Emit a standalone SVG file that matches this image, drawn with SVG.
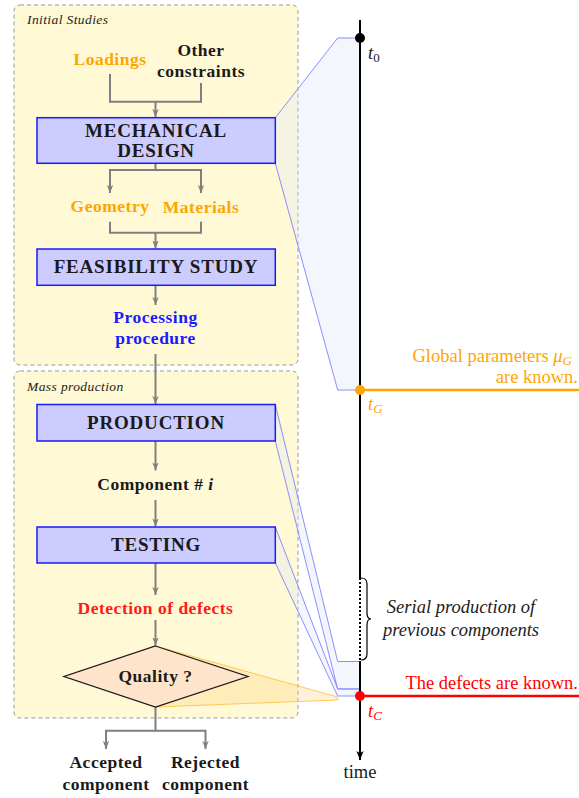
<svg xmlns="http://www.w3.org/2000/svg" width="579" height="798" viewBox="0 0 579 798">
<defs>
<marker id="ag" viewBox="0 0 10 10" refX="10" refY="5" markerWidth="8" markerHeight="8" markerUnits="userSpaceOnUse" orient="auto"><path d="M0,1 L10,5 L0,9 L2.5,5 z" fill="#808080"/></marker>
<marker id="ak" viewBox="0 0 10 10" refX="10" refY="5" markerWidth="9" markerHeight="9" markerUnits="userSpaceOnUse" orient="auto"><path d="M0,1 L10,5 L0,9 L2.5,5 z" fill="#000"/></marker>
</defs>
<style>
text{font-family:"Liberation Serif","DejaVu Serif","Times New Roman",serif}
.frame{fill:#fff9d5;stroke:#9a9a9a;stroke-width:1;stroke-dasharray:4 3}
.ftitle{font-style:italic;font-size:13.5px;letter-spacing:0.4px;fill:#222}
.box{fill:#ccccff;stroke:#1a1aff;stroke-width:1.5}
.bt{font-weight:bold;font-size:19px;letter-spacing:0.8px;fill:#1a1a1a;text-anchor:middle}
.lb{font-weight:bold;font-size:17.5px;letter-spacing:0.5px;text-anchor:middle}
.con{fill:none;stroke:#808080;stroke-width:2}
.proj{fill:#e0e4fa;fill-opacity:0.35;stroke:#8080ff;stroke-width:0.9}
.tt{font-size:18.5px}
</style>
<rect class="frame" x="14" y="5" width="284" height="360" rx="6"/>
<rect class="frame" x="14" y="371" width="284" height="347" rx="6"/>
<text class="ftitle" x="27" y="24">Initial Studies</text>
<text class="ftitle" x="27" y="391">Mass production</text>
<g id="projections">
<polygon class="proj" points="275.3,117.7 337.7,38 360,38 360,390 337.7,390 275.3,163.3"/>
<polygon class="proj" points="275.3,404.5 337.7,661.5 360,661.5 360,689 337.7,689 275.3,441"/>
<polygon class="proj" points="275.3,527 337.7,689 360,689 360,696 337.7,696 275.3,563"/>
<polygon points="155.5,646 337.7,697 337.7,700 155.5,707" fill="#ffd27a" fill-opacity="0.3" stroke="#ffc34d" stroke-width="0.9"/>
</g>
<g id="connectors">
<path class="con" d="M110,74 V101.7 H201 V83"/>
<path class="con" d="M155.5,101.7 V117" marker-end="url(#ag)"/>
<path class="con" d="M155.5,163.3 V170 H110 V193" marker-end="url(#ag)"/>
<path class="con" d="M155.5,170 H201 V193" marker-end="url(#ag)"/>
<path class="con" d="M110,221.7 V232.7 H201 V221.7"/>
<path class="con" d="M155.5,232.7 V248.5" marker-end="url(#ag)"/>
<path class="con" d="M155.5,285.3 V305" marker-end="url(#ag)"/>
<path class="con" d="M155.5,354 V404" marker-end="url(#ag)"/>
<path class="con" d="M155.5,441 V470.5" marker-end="url(#ag)"/>
<path class="con" d="M155.5,500 V526.5" marker-end="url(#ag)"/>
<path class="con" d="M155.5,563 V595" marker-end="url(#ag)"/>
<path class="con" d="M155.5,620 V645.5" marker-end="url(#ag)"/>
<path class="con" d="M155.5,707 V730.7 H106 V749" marker-end="url(#ag)"/>
<path class="con" d="M155.5,730.7 H205.5 V749" marker-end="url(#ag)"/>
</g>
<g id="loadings"><text class="lb" x="110" y="65" fill="#ffa500">Loadings</text></g>
<g id="other"><text class="lb" x="201" y="56" fill="#1a1a1a">Other</text><text class="lb" x="201" y="77.3" fill="#1a1a1a">constraints</text></g>
<g id="mech"><rect class="box" x="37" y="117.7" width="238.3" height="45.6"/><text class="bt" x="156" y="136.7">MECHANICAL</text><text class="bt" x="156" y="157">DESIGN</text></g>
<g id="geometry"><text class="lb" x="110" y="211.7" fill="#ffa500">Geometry</text></g>
<g id="materials"><text class="lb" x="201" y="213.3" fill="#ffa500">Materials</text></g>
<g id="feas"><rect class="box" x="37" y="249" width="238.3" height="36.3"/><text class="bt" x="156" y="273.3">FEASIBILITY STUDY</text></g>
<g id="proc"><text class="lb" x="155.5" y="323.3" fill="#1a1aff">Processing</text><text class="lb" x="155.5" y="344" fill="#1a1aff">procedure</text></g>
<g id="production"><rect class="box" x="37" y="404.5" width="238.3" height="36.5"/><text class="bt" x="156" y="429.3">PRODUCTION</text></g>
<g id="component"><text class="lb" x="155.5" y="490" fill="#1a1a1a">Component # <tspan font-style="italic">i</tspan></text></g>
<g id="testing"><rect class="box" x="37" y="527" width="238.3" height="36"/><text class="bt" x="156" y="551">TESTING</text></g>
<g id="detection"><text class="lb" x="155.5" y="614" fill="#ff1a1a">Detection of defects</text></g>
<g id="quality"><polygon points="155.5,646 248,676.5 155.5,707 64,676.5" fill="#ffe4cc" stroke="#1a1a1a" stroke-width="1.3"/><text class="lb" x="155.5" y="681.5" fill="#1a1a1a">Quality ?</text></g>
<g id="accepted"><text class="lb" x="106" y="768.3" fill="#1a1a1a">Accepted</text><text class="lb" x="106" y="790" fill="#1a1a1a">component</text></g>
<g id="rejected"><text class="lb" x="205.5" y="768.3" fill="#1a1a1a">Rejected</text><text class="lb" x="205.5" y="790" fill="#1a1a1a">component</text></g>
<g id="timeline">
<line x1="360" y1="20" x2="360" y2="578" stroke="#000" stroke-width="2"/>
<line x1="360" y1="578" x2="360" y2="661" stroke="#000" stroke-width="2" stroke-dasharray="2 2"/>
<line x1="360" y1="661" x2="360" y2="760" stroke="#000" stroke-width="2" marker-end="url(#ak)"/>
<path d="M361,578 q6,0 6,6 v29 q0,6 4,6 q-4,0 -4,6 v29 q0,6 -6,6" fill="none" stroke="#000" stroke-width="1.2"/>
<text class="tt" x="360" y="778" text-anchor="middle" fill="#1a1a1a">time</text>
</g>
<g id="t0"><circle cx="360" cy="38" r="5" fill="#000"/><text class="tt" x="368" y="59" font-style="italic" fill="#1a1a1a">t<tspan font-style="normal" font-size="13" dy="3">0</tspan></text></g>
<g id="tG">
<line x1="360" y1="390" x2="579" y2="390" stroke="#ffa500" stroke-width="2.5"/>
<circle cx="360" cy="390" r="5" fill="#ffa500"/>
<text class="tt" x="368" y="410" font-style="italic" fill="#ffa500">t<tspan font-size="13" dy="3">G</tspan></text>
<text class="tt" x="412.5" y="362" fill="#ffa500">Global parameters <tspan font-style="italic">μ</tspan><tspan font-style="italic" font-size="13" dy="3">G</tspan></text>
<text class="tt" x="578" y="383" text-anchor="end" fill="#ffa500">are known.</text>
</g>
<g id="tC">
<line x1="360" y1="696" x2="579" y2="696" stroke="#ff0000" stroke-width="2.5"/>
<circle cx="360" cy="696" r="5" fill="#ff0000"/>
<text class="tt" x="368" y="717" font-style="italic" fill="#ff0000">t<tspan font-size="13" dy="3">C</tspan></text>
<text class="tt" x="578" y="689" text-anchor="end" fill="#ff0000">The defects are known.</text>
</g>
<g id="serial"><text class="tt" x="461" y="613" text-anchor="middle" font-style="italic" font-size="16.5" fill="#222">Serial production of</text><text class="tt" x="461" y="636" text-anchor="middle" font-style="italic" font-size="16.5" fill="#222">previous components</text></g>
</svg>
